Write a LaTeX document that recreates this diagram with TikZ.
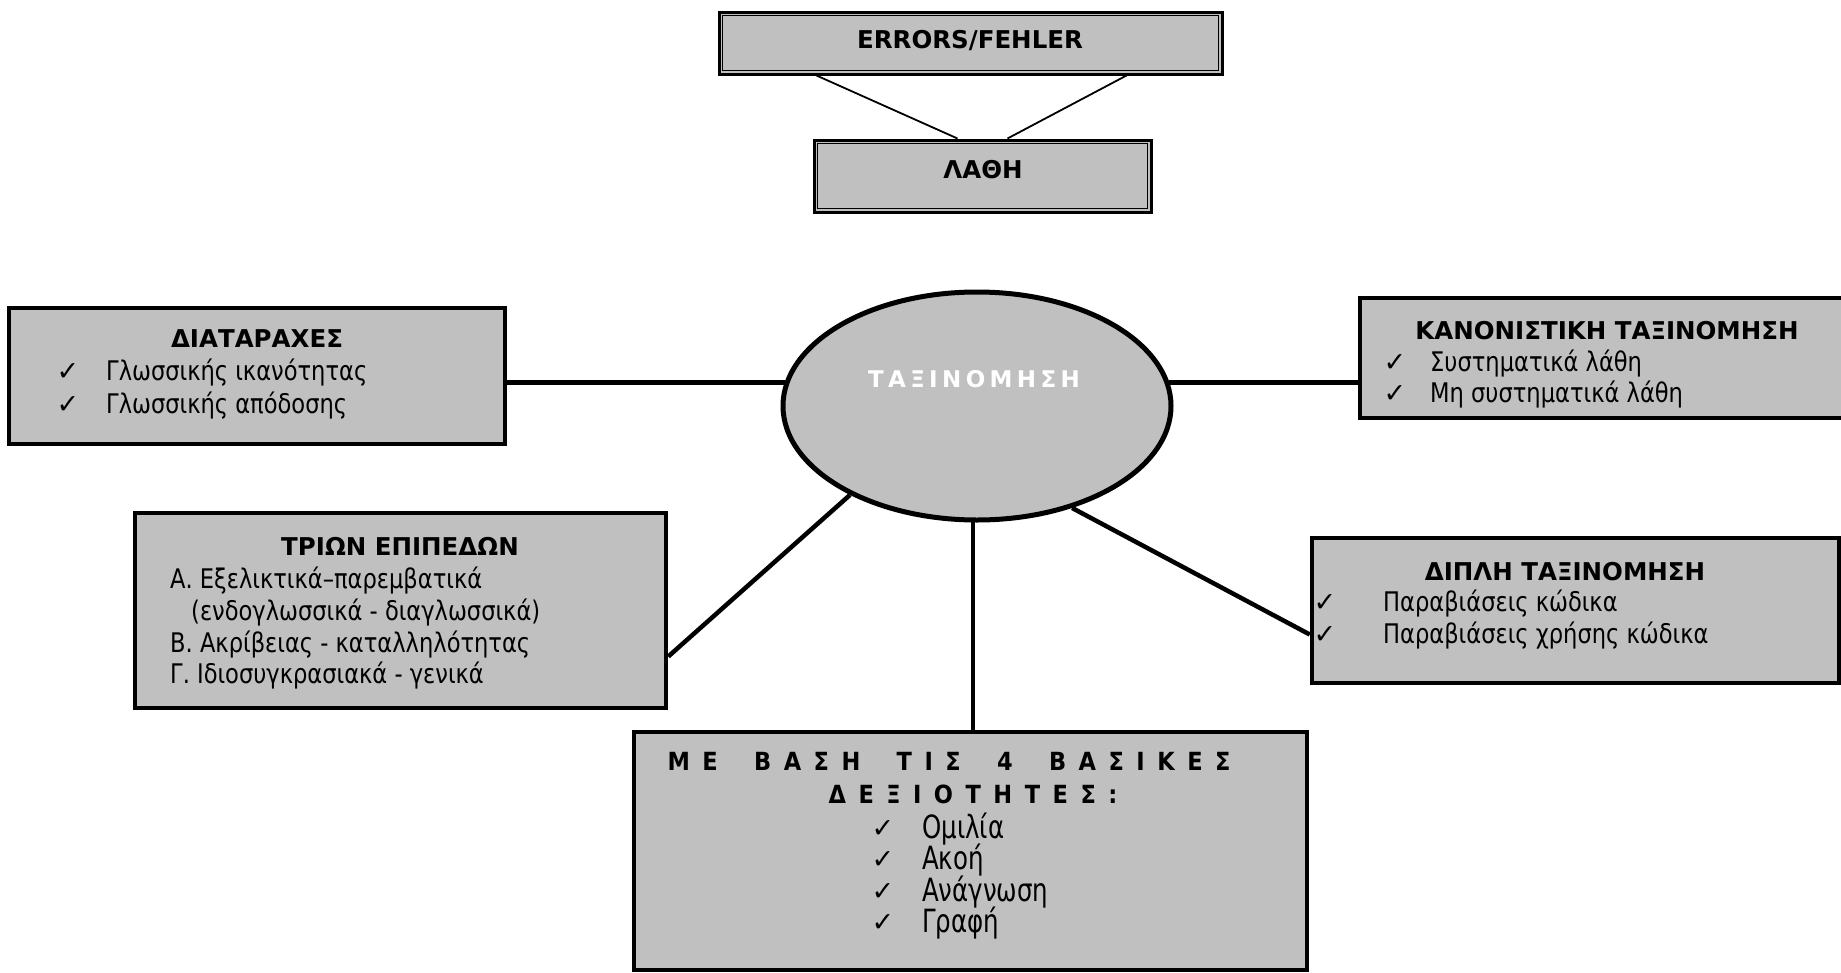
\documentclass[tikz,border=0pt]{standalone}
\usepackage{fontspec}
\setmainfont{DejaVu Sans Condensed}[FakeStretch=0.93]
\newfontfamily\symfont{DejaVu Sans}
\newfontfamily\titlefont{DejaVu Sans Bold}
\newfontfamily\narrowfont[FakeStretch=0.85]{DejaVu Sans Condensed}
\newfontfamily\ellfont[LetterSpace=19]{DejaVu Sans Bold}
\newfontfamily\trackfont[LetterSpace=50]{DejaVu Sans Condensed Bold}
\newcommand{\wgap}{\hspace*{16pt} }
\usetikzlibrary{shapes.geometric}
\definecolor{boxgray}{HTML}{C0C0C0}
\tikzset{
  mainbox/.style={draw=black, fill=boxgray, line width=4.5pt, rectangle, inner sep=0pt},
  dblbox/.style={draw=black, fill=boxgray, line width=3pt, rectangle, inner sep=0pt},
  txt/.style={inner sep=0pt, font=\fontsize{27}{32}\selectfont, anchor=base west},
  ttl/.style={inner sep=0pt, font=\titlefont\fontsize{24.5}{29}\selectfont, anchor=base},
  chk/.style={inner sep=0pt, font=\symfont\fontsize{27}{30}\selectfont, anchor=base},
  ntxt/.style={inner sep=0pt, font=\narrowfont\fontsize{32}{36}\selectfont, anchor=base west},
  trk/.style={inner sep=0pt, anchor=base, font=\trackfont\fontsize{25}{29}\selectfont},
  conn/.style={line width=4.5pt},
  thinconn/.style={line width=1.8pt}
}
\begin{document}
\begin{tikzpicture}[x=1pt,y=-1pt]
\clip (0,0) rectangle (1841,972);
\fill[white] (0,0) rectangle (1841,972);

% top boxes
\node[dblbox, minimum width=503pt, minimum height=62pt] (err) at (970.5,43) {};
\draw[line width=1.5pt] ([shift={(5pt,-5pt)}]err.north west) rectangle ([shift={(-5pt,5pt)}]err.south east);
\node[ttl] (errt) at (970,48) {ERRORS/FEHLER};

\node[dblbox, minimum width=337pt, minimum height=72pt] (lathi) at (982.5,176) {};
\draw[line width=1.5pt] ([shift={(5pt,-5pt)}]lathi.north west) rectangle ([shift={(-5pt,5pt)}]lathi.south east);
\node[ttl] (lathit) at (983,178) {ΛΑΘΗ};

\draw[thinconn] ([xshift=99pt]err.south west) -- ([xshift=145pt]lathi.north west);
\draw[thinconn] ([xshift=-97pt]err.south east) -- ([xshift=-145pt]lathi.north east);

% ellipse
\node[ellipse, draw=black, fill=boxgray, line width=5pt, minimum width=388pt, minimum height=228pt, inner sep=0pt] (ell) at (977,406) {};
\node[inner sep=0pt, anchor=base, text=white, font=\ellfont\fontsize{23}{27}\selectfont] (ellt) at (974,387) {ΤΑΞΙΝΟΜΗΣΗ};

% ΔΙΑΤΑΡΑΧΕΣ
\node[mainbox, minimum width=496pt, minimum height=136pt] (diat) at (257,376) {};
\node[ttl] (diatt) at (257,347) {ΔΙΑΤΑΡΑΧΕΣ};
\node[chk] (diatc1) at (68,380) {✓};
\node[chk] (diatc2) at (68,413) {✓};
\node[txt] (diat1) at (106,380) {Γλωσσικής ικανότητας};
\node[txt] (diat2) at (106,413) {Γλωσσικής απόδοσης};

% ΚΑΝΟΝΙΣΤΙΚΗ
\node[mainbox, minimum width=500pt, minimum height=120pt] (kanon) at (1610,358) {};
\node[ttl] (kanont) at (1607,339) {ΚΑΝΟΝΙΣΤΙΚΗ ΤΑΞΙΝΟΜΗΣΗ};
\node[chk] (kanonc1) at (1395,371) {✓};
\node[chk] (kanonc2) at (1395,402) {✓};
\node[txt] (kanon1) at (1430,371) {Συστηματικά λάθη};
\node[txt] (kanon2) at (1430,402) {Μη συστηματικά λάθη};

% ΤΡΙΩΝ ΕΠΙΠΕΔΩΝ
\node[mainbox, minimum width=531pt, minimum height=195pt] (trion) at (400.5,610.5) {};
\node[ttl] (triont) at (400,555) {ΤΡΙΩΝ ΕΠΙΠΕΔΩΝ};
\node[txt] (trion1) at (170,588) {Α. Εξελικτικά–παρεμβατικά};
\node[txt] (trion2) at (191,620) {(ενδογλωσσικά - διαγλωσσικά)};
\node[txt] (trion3) at (170,652) {Β. Ακρίβειας - καταλληλότητας};
\node[txt] (trion4) at (170,683) {Γ. Ιδιοσυγκρασιακά - γενικά};

% ΔΙΠΛΗ
\node[mainbox, minimum width=527pt, minimum height=145pt] (dipli) at (1575.5,610.5) {};
\node[ttl] (diplit) at (1565,580) {ΔΙΠΛΗ ΤΑΞΙΝΟΜΗΣΗ};
\node[chk] (diplic1) at (1325,611) {✓};
\node[chk] (diplic2) at (1325,643) {✓};
\node[txt] (dipli1) at (1383,611) {Παραβιάσεις κώδικα};
\node[txt] (dipli2) at (1383,643) {Παραβιάσεις χρήσης κώδικα};

% ΜΕ ΒΑΣΗ
\node[mainbox, minimum width=673pt, minimum height=238pt] (basi) at (970.5,851) {};
\node[trk] (basit1) at (949,770) {ΜΕ\wgap ΒΑΣΗ\wgap ΤΙΣ\wgap 4\wgap ΒΑΣΙΚΕΣ};
\node[trk] (basit2) at (973,803) {ΔΕΞΙΟΤΗΤΕΣ:};
\node[chk] (basic1) at (883,837) {✓};
\node[chk] (basic2) at (883,868) {✓};
\node[chk] (basic3) at (883,900) {✓};
\node[chk] (basic4) at (883,931) {✓};
\node[ntxt] (basi1) at (922,838) {Ομιλία};
\node[ntxt] (basi2) at (922,869) {Ακοή};
\node[ntxt] (basi3) at (922,901) {Ανάγνωση};
\node[ntxt] (basi4) at (922,932) {Γραφή};

% connectors
\draw[conn] (ell.173) -- (ell.173 -| diat.east);
\draw[conn] (ell.7) -- (ell.7 -| kanon.west);
\draw[conn] (ell.215.6) -- ([yshift=-46pt]trion.east);
\draw[conn] (ell.313.5) -- ([yshift=-24pt]dipli.west);
\draw[conn] (ell.268) -- (ell.268 |- basi.north);
\end{tikzpicture}
\end{document}
